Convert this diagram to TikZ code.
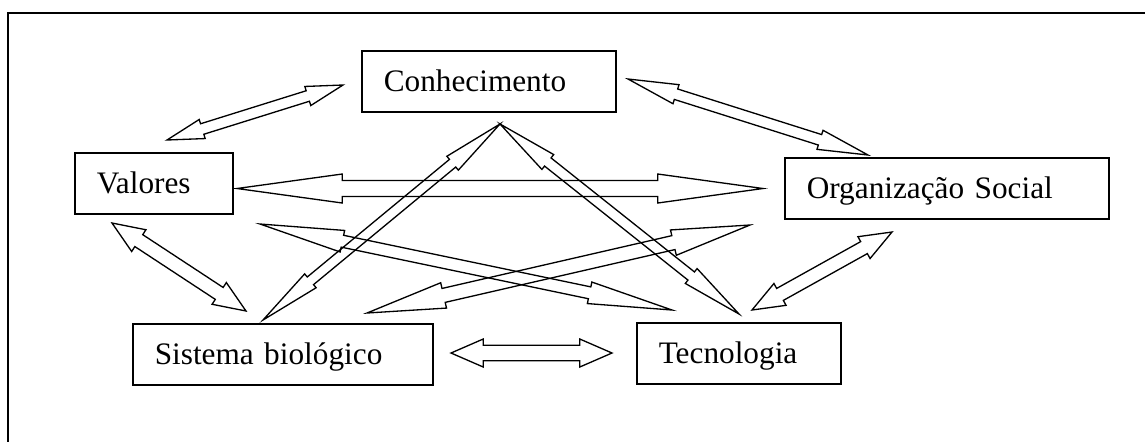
\documentclass[tikz,border=0pt]{standalone}
\usepackage{fontspec}
\setmainfont{Liberation Serif}
\usetikzlibrary{calc}

\tikzstyle{frame} = [draw, line width=1.2pt]
\tikzstyle{block} = [rectangle, draw, line width=0.9pt, align=left, anchor=north west, inner xsep=0.44cm, inner ysep=0pt, text height=0.82cm, text depth=0.4cm, font=\fontsize{17.8}{20}\selectfont]
\tikzstyle{twoway} = [draw, line width=0.75pt, line join=miter]

% hollow arrow with a head on both ends: from, to, head width in px
\newcommand{\dblarrow}[3]{%
    \coordinate (p) at ($(#1)!0.2!(#2)$);
    \coordinate (q) at ($(#1)!0.8!(#2)$);
    \draw [twoway] (#1)
        -- ($(p)!{#3*0.01cm}!90:(#2)$) -- ($(p)!{#3*0.0055cm}!90:(#2)$)
        -- ($(q)!{#3*0.0055cm}!90:(#2)$) -- ($(q)!{#3*0.01cm}!90:(#2)$)
        -- (#2)
        -- ($(q)!{#3*0.01cm}!-90:(#2)$) -- ($(q)!{#3*0.0055cm}!-90:(#2)$)
        -- ($(p)!{#3*0.0055cm}!-90:(#2)$) -- ($(p)!{#3*0.01cm}!-90:(#2)$)
        -- cycle;
}

\begin{document}
\begin{tikzpicture}[x=0.02cm, y=-0.02cm]

    \path [use as bounding box, clip] (0,0) rectangle (1145,441);
    \draw [frame] (8,13) rectangle (1170,470);

    % Boxes
    \node (con) [block, text width=4.2cm] at (361,50) {Conhecimento};
    \node (val) [block, text width=2.28cm] at (74,152) {Valores};
    \node (org) [block, text width=5.6cm] at (784,157) {Organização Social};
    \node (sis) [block, text width=5.12cm] at (132,323) {Sistema biológico};
    \node (tec) [block, text width=3.2cm] at (636,322) {Tecnologia};

    % Arrow ends
    \coordinate (val_con) at (167,140);
    \coordinate (con_val) at (343,85);
    \coordinate (con_org) at (628,79);
    \coordinate (org_con) at (868,155);
    \coordinate (val_org) at (237,188.5);
    \coordinate (org_val) at (763,188.5);
    \coordinate (val_sis) at (112,223);
    \coordinate (sis_val) at (246,311);
    \coordinate (sis_con) at (263,320);
    \coordinate (con_sis) at (500,124);
    \coordinate (con_tec) at (500,124);
    \coordinate (tec_con) at (739,314);
    \coordinate (val_tec) at (260,224);
    \coordinate (tec_val) at (672,310);
    \coordinate (sis_org) at (367,313);
    \coordinate (org_sis) at (750,225);
    \coordinate (tec_org) at (752,310);
    \coordinate (org_tec) at (892,232);
    \coordinate (sis_tec) at (451,353);
    \coordinate (tec_sis) at (612,353);

    % ==== Arrows
    \dblarrow{val_con}{con_val}{20}
    \dblarrow{con_org}{org_con}{20}
    \dblarrow{val_org}{org_val}{29}
    \dblarrow{val_sis}{sis_val}{26}
    \dblarrow{sis_con}{con_sis}{18}
    \dblarrow{con_tec}{tec_con}{19}
    \dblarrow{val_tec}{tec_val}{22}
    \dblarrow{sis_org}{org_sis}{26}
    \dblarrow{tec_org}{org_tec}{25}
    \dblarrow{sis_tec}{tec_sis}{28}

\end{tikzpicture}
\end{document}
